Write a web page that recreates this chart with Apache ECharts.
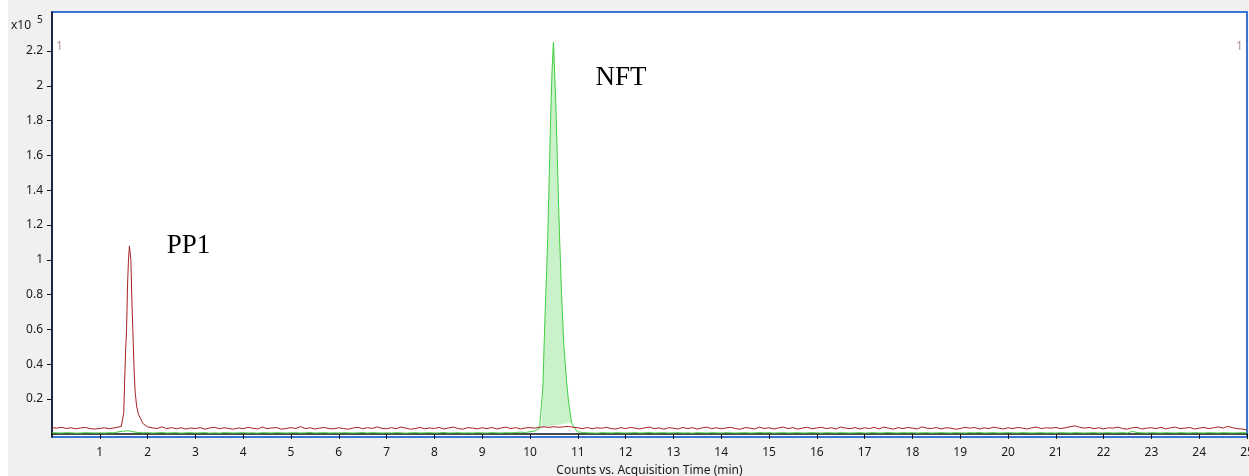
<!DOCTYPE html>
<html>
<head>
<meta charset="utf-8">
<script src="https://cdn.jsdelivr.net/npm/echarts@6/dist/echarts.min.js"></script>
<style>
  html, body { margin: 0; padding: 0; }
  body { width: 1249px; height: 476px; background: linear-gradient(to right, #ffffff 8px, #f0f0f0 8px); overflow: hidden; }
  #chart { width: 1249px; height: 476px; }
</style>
</head>
<body>
<div id="chart"></div>
<script>
// Time axis (min) and intensity (x10^5 counts)
const xTicks = [1,2,3,4,5,6,7,8,9,10,11,12,13,14,15,16,17,18,19,20,21,22,23,24,25];
const yTicks = [0.2,0.4,0.6,0.8,1,1.2,1.4,1.6,1.8,2,2.2];
const baseStart = 0;     // first sample time (min)
const baseStep = 0.1;    // sampling step of baseline traces (min)

// PP1 trace (dark red) baseline samples, 0.0 .. 25.0 min
const redBase = [
  0.036,0.033,0.038,0.031,0.035,0.029,0.034,0.037,0.030,0.028,
  0.031,0.035,0.029,0.034,0.040,0.043,0.040,0.045,0.050,0.045,
  0.040,0.034,0.031,0.040,0.030,0.036,0.029,0.035,0.028,0.034,
  0.030,0.036,0.027,0.034,0.038,0.029,0.035,0.031,0.027,0.034,
  0.029,0.038,0.032,0.028,0.039,0.030,0.034,0.036,0.027,0.031,
  0.036,0.031,0.042,0.030,0.035,0.028,0.033,0.037,0.030,0.029,
  0.035,0.030,0.027,0.034,0.038,0.029,0.036,0.031,0.040,0.032,
  0.029,0.036,0.030,0.039,0.033,0.027,0.031,0.037,0.029,0.034,
  0.031,0.037,0.028,0.034,0.039,0.030,0.027,0.036,0.033,0.029,
  0.035,0.030,0.037,0.028,0.034,0.039,0.030,0.036,0.028,0.034,
  0.036,0.033,0.038,0.040,0.037,0.041,0.038,0.040,0.043,0.038,
  0.035,0.030,0.037,0.029,0.035,0.032,0.038,0.030,0.028,0.036,
  0.030,0.037,0.033,0.028,0.035,0.039,0.030,0.034,0.027,0.035,
  0.033,0.028,0.037,0.030,0.036,0.027,0.034,0.039,0.030,0.035,
  0.029,0.034,0.038,0.030,0.027,0.036,0.033,0.028,0.038,0.031,
  0.035,0.028,0.034,0.039,0.030,0.036,0.027,0.033,0.038,0.029,
  0.034,0.038,0.030,0.035,0.028,0.039,0.033,0.030,0.036,0.028,
  0.035,0.030,0.038,0.028,0.039,0.033,0.027,0.036,0.030,0.037,
  0.033,0.028,0.040,0.033,0.030,0.037,0.028,0.035,0.033,0.027,
  0.030,0.038,0.033,0.037,0.028,0.035,0.030,0.039,0.033,0.028,
  0.035,0.030,0.037,0.033,0.028,0.035,0.039,0.030,0.035,0.033,
  0.037,0.030,0.035,0.041,0.046,0.038,0.033,0.037,0.030,0.035,
  0.028,0.035,0.033,0.039,0.030,0.027,0.035,0.037,0.028,0.033,
  0.035,0.030,0.038,0.028,0.035,0.039,0.030,0.033,0.037,0.028,
  0.033,0.037,0.030,0.035,0.040,0.033,0.043,0.035,0.030,0.028,
  0.022
];
// PP1 peak, finely sampled [time, intensity]
const redPeak = [
  [1.45,0.042],[1.48,0.05],[1.50,0.12],[1.52,0.3],[1.54,0.48],[1.56,0.6],[1.58,0.85],
  [1.60,1.0],[1.62,1.08],[1.635,1.085],[1.65,1.0],[1.67,0.78],[1.69,0.6],[1.70,0.52],
  [1.72,0.35],[1.74,0.24],[1.77,0.16],[1.81,0.11],[1.85,0.09],[1.90,0.06],[1.95,0.05]
];

// NFT trace (green) baseline samples, 0.0 .. 25.0 min
const greenBase = [
  0.007,0.006,0.005,0.007,0.006,0.004,0.005,0.007,0.006,0.005,
  0.006,0.005,0.007,0.006,0.012,0.016,0.018,0.012,0.008,0.006,
  0.007,0.005,0.006,0.008,0.005,0.006,0.007,0.004,0.006,0.007,
  0.005,0.006,0.007,0.004,0.006,0.004,0.007,0.006,0.005,0.006,
  0.007,0.005,0.006,0.004,0.007,0.006,0.005,0.007,0.006,0.005,
  0.006,0.007,0.005,0.006,0.008,0.005,0.006,0.007,0.005,0.006,
  0.005,0.007,0.006,0.005,0.006,0.008,0.005,0.007,0.006,0.005,
  0.006,0.005,0.007,0.006,0.004,0.006,0.007,0.005,0.006,0.007,
  0.005,0.006,0.008,0.005,0.006,0.007,0.005,0.006,0.005,0.007,
  0.006,0.005,0.007,0.006,0.005,0.007,0.006,0.008,0.010,0.008,
  0.012,0.016,0.018,0.020,0.022,0.024,0.026,0.028,0.030,0.032,
  0.012,0.008,0.006,0.005,0.004,0.007,0.006,0.005,0.007,0.006,
  0.005,0.006,0.007,0.005,0.006,0.008,0.005,0.006,0.007,0.005,
  0.006,0.007,0.005,0.006,0.004,0.007,0.006,0.005,0.007,0.006,
  0.005,0.007,0.006,0.005,0.006,0.007,0.005,0.006,0.008,0.006,
  0.007,0.005,0.006,0.007,0.005,0.006,0.007,0.005,0.006,0.007,
  0.006,0.005,0.007,0.006,0.005,0.007,0.006,0.005,0.006,0.007,
  0.005,0.006,0.007,0.005,0.006,0.008,0.006,0.005,0.007,0.006,
  0.007,0.005,0.006,0.007,0.005,0.006,0.007,0.006,0.005,0.007,
  0.006,0.005,0.007,0.006,0.008,0.005,0.006,0.007,0.005,0.006,
  0.007,0.006,0.005,0.007,0.006,0.005,0.006,0.007,0.005,0.006,
  0.005,0.007,0.006,0.005,0.007,0.006,0.005,0.006,0.007,0.005,
  0.006,0.007,0.005,0.006,0.007,0.005,0.014,0.008,0.006,0.005,
  0.007,0.006,0.005,0.007,0.006,0.005,0.007,0.006,0.005,0.007,
  0.006,0.005,0.007,0.006,0.005,0.007,0.006,0.005,0.006,0.007,
  0.005
];
// NFT peak, finely sampled [time, intensity]
const greenPeak = [
  [10.20,0.032],[10.24,0.038],[10.27,0.27],[10.30,0.55],[10.33,0.8],[10.35,0.95],
  [10.37,1.12],[10.40,1.45],[10.43,1.8],[10.46,2.08],[10.49,2.25],[10.51,2.24],
  [10.54,1.9],[10.57,1.6],[10.60,1.3],[10.62,1.12],[10.66,0.8],[10.71,0.5],
  [10.76,0.32],[10.80,0.2],[10.87,0.064],[10.93,0.035],[10.99,0.012]
];
// integrated region of the NFT peak (start and end times)
const nftIntegration = [10.24, 10.87];

// Peak labels [text, time, intensity]
const peakLabels = [["PP1", 2.40, 1.081], ["NFT", 11.37, 2.045]];

function mergeTrace(base, peak) {
  const p0 = peak[0][0], p1 = peak[peak.length - 1][0];
  const pts = [];
  base.forEach((v, i) => {
    const t = +(baseStart + i * baseStep).toFixed(2);
    if (t < p0 || t > p1) pts.push([t, v]);
  });
  return pts.concat(peak).sort((a, b) => a[0] - b[0]);
}
const redData = mergeTrace(redBase, redPeak);
const greenData = mergeTrace(greenBase, greenPeak);
const fillPts = greenPeak.filter(p => p[0] >= nftIntegration[0] && p[0] <= nftIntegration[1]);

const FONT = "'Noto Sans', 'Liberation Sans', sans-serif";
const chart = echarts.init(document.getElementById('chart'), null, { renderer: 'canvas' });

chart.setOption({
  animation: false,
  backgroundColor: 'transparent',
  grid: {
    left: 52, right: 2, top: 12, bottom: 39,
    outerBoundsMode: 'none', containLabel: false,
    show: true, backgroundColor: '#ffffff', borderColor: '#3a74d4', borderWidth: 2
  },
  xAxis: {
    type: 'value', min: 0, max: 25,
    offset: 4,
    name: 'Counts vs. Acquisition Time (min)',
    nameLocation: 'middle', nameGap: 24,
    nameTextStyle: { fontFamily: FONT, fontSize: 12, color: '#1a1a1a' },
    axisLine: { show: true, lineStyle: { color: '#111', width: 1.5 } },
    axisTick: { show: true, length: 5, lineStyle: { color: '#111' }, customValues: xTicks },
    axisLabel: { fontFamily: FONT, fontSize: 12, color: '#1a1a1a', margin: 6, customValues: xTicks, formatter: v => String(v) },
    splitLine: { show: false }
  },
  yAxis: {
    type: 'value', min: -0.018, max: 2.424,
    offset: 2,
    axisLine: { show: true, lineStyle: { color: '#111', width: 1.5 } },
    axisTick: { show: true, length: 5, lineStyle: { color: '#111' }, customValues: yTicks },
    axisLabel: { fontFamily: FONT, fontSize: 12, color: '#1a1a1a', margin: 7, customValues: yTicks,
      formatter: v => String(+v.toFixed(1)) },
    splitLine: { show: false }
  },
  graphic: [
    { type: 'text', left: 11, top: 20, style: { text: 'x10', font: "12px 'Noto Sans'", fill: '#1a1a1a' } },
    { type: 'text', left: 37, top: 15, style: { text: '5', font: "10px 'Noto Sans'", fill: '#1a1a1a' } },
    { type: 'text', left: 56, top: 41, style: { text: '1', font: "12px 'Noto Sans'", fill: '#a89494' } },
    { type: 'text', left: 1236, top: 41, style: { text: '1', font: "12px 'Noto Sans'", fill: '#a89494' } }
  ],
  series: [
    {
      type: 'custom', name: 'NFT area', z: 1, silent: true,
      data: [0],
      renderItem: function (params, api) {
        const pts = fillPts.map(p => api.coord(p));
        return { type: 'polygon', shape: { points: pts },
          style: { fill: 'rgba(150,230,150,0.5)', stroke: 'none' } };
      }
    },
    {
      type: 'line', name: 'NFT', data: greenData, z: 2,
      showSymbol: false, symbol: 'none',
      lineStyle: { color: '#3fcf3f', width: 1 },
      markPoint: {
        symbolSize: 0,
        data: [{ coord: [peakLabels[1][1], peakLabels[1][2]], value: peakLabels[1][0] }],
        label: { show: true, position: 'right', distance: 0, formatter: '{c}',
          fontFamily: "'Liberation Serif', 'Times New Roman', serif", fontSize: 27, color: '#000' }
      }
    },
    {
      type: 'line', name: 'PP1', data: redData, z: 3,
      showSymbol: false, symbol: 'none',
      lineStyle: { color: '#a52222', width: 1 },
      markPoint: {
        symbolSize: 0,
        data: [{ coord: [peakLabels[0][1], peakLabels[0][2]], value: peakLabels[0][0] }],
        label: { show: true, position: 'right', distance: 0, formatter: '{c}',
          fontFamily: "'Liberation Serif', 'Times New Roman', serif", fontSize: 27, color: '#000' }
      }
    }
  ]
});
</script>
</body>
</html>
